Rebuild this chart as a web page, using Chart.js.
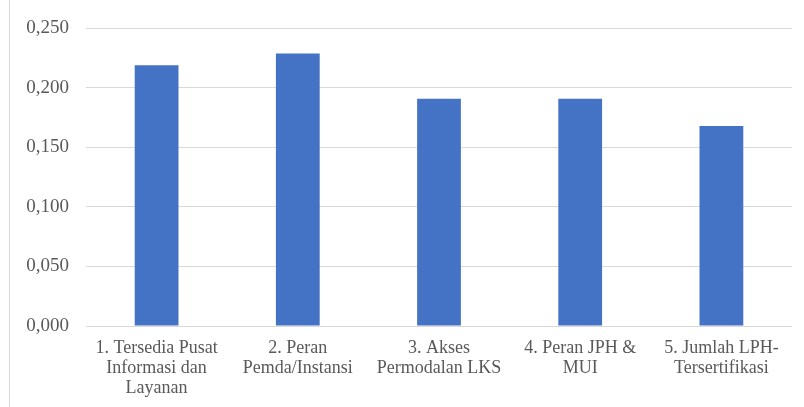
<!DOCTYPE html>
<html>
<head>
<meta charset="utf-8">
<script src="https://cdn.jsdelivr.net/npm/chart.js@4/dist/chart.umd.min.js"></script>
<style>
html,body{margin:0;padding:0;background:#fff;}
#wrap{position:relative;width:804px;height:407px;}
#frame{position:absolute;left:9px;top:0;width:1px;height:407px;background:#d9d9d9;}
canvas{position:absolute;left:0;top:0;}
</style>
</head>
<body>
<div id="wrap"><div id="frame"></div><canvas id="c" width="804" height="407"></canvas></div>
<script>
const categories = [
  ["1. Tersedia Pusat", "Informasi dan", "Layanan"],
  ["2. Peran", "Pemda/Instansi"],
  ["3. Akses", "Permodalan LKS"],
  ["4. Peran JPH &", "MUI"],
  ["5. Jumlah LPH-", "Tersertifikasi"]
];
const values = [0.219, 0.229, 0.191, 0.191, 0.168];
const yTicks = [0, 0.05, 0.1, 0.15, 0.2, 0.25];

Chart.defaults.font.family = 'Liberation Serif';
Chart.defaults.color = '#595959';

new Chart(document.getElementById('c'), {
  type: 'bar',
  data: {
    labels: categories,
    datasets: [{
      data: values,
      backgroundColor: '#4472C4',
      borderWidth: 0,
      barPercentage: 0.62,
      categoryPercentage: 0.5
    }]
  },
  options: {
    responsive: false,
    animation: false,
    layout: { padding: { left: 0, right: 12, top: 26, bottom: 0 } },
    plugins: { legend: { display: false }, tooltip: { enabled: false } },
    scales: {
      x: {
        grid: { display: false, drawTicks: false },
        border: { display: false },
        ticks: {
          color: '#595959',
          font: { family: 'Liberation Serif', size: 18, lineHeight: 1.11 },
          maxRotation: 0, autoSkip: false, padding: 12
        },
        afterFit: s => { s.height = 81; }
      },
      y: {
        min: 0, max: 0.25,
        afterBuildTicks: s => { s.ticks = yTicks.map(v => ({ value: v })); },
        grid: { color: '#d9d9d9', lineWidth: 1, drawTicks: false },
        border: { display: false },
        ticks: {
          color: '#595959',
          font: { family: 'Liberation Serif', size: 19 },
          padding: 17,
          callback: v => Number(v).toFixed(3).replace('.', ',')
        },
        afterFit: s => { s.width = 86; }
      }
    }
  }
});
</script>
</body>
</html>
